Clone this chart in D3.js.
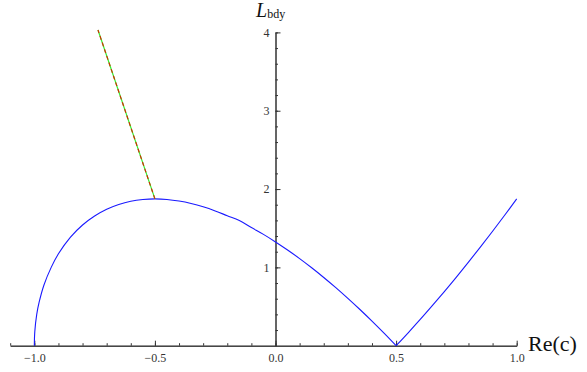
<!DOCTYPE html>
<html>
<head>
<meta charset="utf-8">
<script src="https://cdn.jsdelivr.net/npm/d3@7"></script>
<style>
  body { margin: 0; background: #fff; }
  svg { display: block; }
  .axis path, .axis line { stroke: #333; }
</style>
</head>
<body>
<div id="chart"></div>
<script>
// blue curve, left branch (Re(c) from -1 to 0.5)
var leftC = [-1, -0.998, -0.99, -0.98, -0.96, -0.93, -0.9, -0.85, -0.8, -0.75, -0.7, -0.65, -0.6, -0.55, -0.5,
             -0.45, -0.4, -0.35, -0.3, -0.25, -0.2, -0.15, -0.1, -0.05, 0, 0.05, 0.1, 0.15, 0.2, 0.25,
             0.3, 0.35, 0.4, 0.45, 0.5];
var leftL = [0, 0.18, 0.40, 0.555, 0.775, 1.00, 1.173, 1.386, 1.541, 1.656, 1.742, 1.803, 1.844, 1.866, 1.874,
             1.867, 1.847, 1.816, 1.774, 1.721, 1.659, 1.597, 1.508, 1.421, 1.325, 1.222, 1.112, 0.995, 0.871, 0.741,
             0.604, 0.462, 0.314, 0.16, 0];
// blue curve, right branch (Re(c) from 0.5 to 1)
var rightC = [0.5, 0.55, 0.6, 0.65, 0.7, 0.75, 0.8, 0.85, 0.9, 0.95, 1.0];
var rightL = [0, 0.165, 0.335, 0.511, 0.691, 0.876, 1.067, 1.262, 1.461, 1.665, 1.874];
// red/green dashed segment
var dashC = [-0.5, -0.736];
var dashL = [1.874, 4.03];

var xMajor = [-1.0, -0.5, 0.0, 0.5, 1.0];
var yMajor = [1, 2, 3, 4];

function init()
{
    var w = 587;
    var h = 372;

    var svg = d3.select("#chart")
                .append("svg")
                .attr("width", w)
                .attr("height", h);

    var x = d3.scaleLinear().domain([-1.1, 1.0]).range([10.2, 516.7]);
    var y = d3.scaleLinear().domain([0, 4]).range([345.7, 32.4]);

    var xMinor = d3.range(-11, 11).map(function(i) { return i / 10; });
    var yMinor = d3.range(1, 21).map(function(i) { return i / 5; });

    // x axis: minor then major ticks, all pointing up
    svg.append("g")
        .attr("class", "axis")
        .attr("transform", "translate(0," + y(0) + ")")
        .call(d3.axisBottom(x).tickValues(xMinor).tickSizeInner(-2.5).tickSizeOuter(0).tickFormat(""));
    svg.append("g")
        .attr("class", "axis")
        .attr("transform", "translate(0," + y(0) + ")")
        .call(d3.axisBottom(x).tickValues(xMajor).tickSizeInner(-5).tickSizeOuter(0)
              .tickPadding(8).tickFormat(d3.format(".1f")));

    // y axis: ticks pointing right
    svg.append("g")
        .attr("class", "axis")
        .attr("transform", "translate(" + x(0) + ",0)")
        .call(d3.axisLeft(y).tickValues(yMinor).tickSizeInner(-2.5).tickSizeOuter(0).tickFormat(""));
    svg.append("g")
        .attr("class", "axis")
        .attr("transform", "translate(" + x(0) + ",0)")
        .call(d3.axisLeft(y).tickValues(yMajor).tickSizeInner(-5).tickSizeOuter(0)
              .tickPadding(6).tickFormat(d3.format("d")));

    svg.selectAll(".axis")
        .attr("font-family", "'Liberation Serif', serif")
        .attr("font-size", 12);
    svg.selectAll(".axis text").attr("fill", "#333");

    var line = d3.line()
        .x(function(d) { return x(d[0]); })
        .y(function(d) { return y(d[1]); })
        .curve(d3.curveCatmullRom);

    svg.append("path")
        .datum(d3.zip(leftC, leftL))
        .attr("d", line)
        .attr("fill", "none")
        .attr("stroke", "#1a1aff")
        .attr("stroke-width", 1.1);

    svg.append("path")
        .datum(d3.zip(rightC, rightL))
        .attr("d", line)
        .attr("fill", "none")
        .attr("stroke", "#1a1aff")
        .attr("stroke-width", 1.1);

    var straight = d3.line()
        .x(function(d) { return x(d[0]); })
        .y(function(d) { return y(d[1]); });

    svg.append("path")
        .datum(d3.zip(dashC, dashL))
        .attr("d", straight)
        .attr("fill", "none")
        .attr("stroke", "#33ee33")
        .attr("stroke-width", 1.2);

    svg.append("path")
        .datum(d3.zip(dashC, dashL))
        .attr("d", straight)
        .attr("fill", "none")
        .attr("stroke", "#cc3300")
        .attr("stroke-width", 1.2)
        .attr("stroke-dasharray", "4,3");

    // axis titles
    svg.append("text")
        .attr("x", 528)
        .attr("y", 351)
        .style("font-family", "'Liberation Serif', serif")
        .style("font-size", "22px")
        .style("fill", "#111")
        .text("Re(c)");

    var t = svg.append("text")
        .attr("x", 256)
        .attr("y", 17)
        .style("font-family", "'Liberation Serif', serif")
        .style("fill", "#111");
    t.append("tspan")
        .style("font-size", "20px")
        .style("font-style", "italic")
        .text("L");
    t.append("tspan")
        .attr("dy", 1)
        .style("font-size", "12px")
        .text("bdy");
}
window.onload = init;
</script>
</body>
</html>
